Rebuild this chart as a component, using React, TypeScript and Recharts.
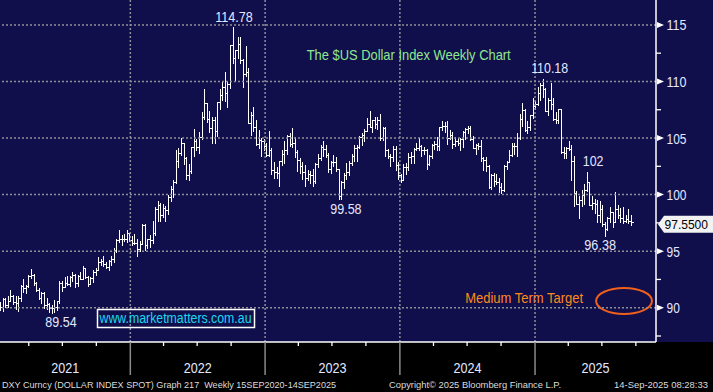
import React from 'react';
import {
  ComposedChart,
  Bar,
  XAxis,
  YAxis,
  ReferenceLine,
  ReferenceDot,
  ReferenceArea,
} from 'recharts';

const FONT = '"Liberation Sans", Arial, sans-serif';
const NAVY = '#100e4b';
const GRID = '#8e8e96';
const TEXT = '#e4e8ff';

// weekly DXY bars [open, high, low, close], weeks ending on Fridays from 8 Jan 2021
const bars2021 = [
  [90.0, 90.5, 89.8, 90.1], [90.1, 90.9, 89.7, 90.8], [90.8, 90.9, 90.1, 90.2], [90.2, 91.0, 90.1, 90.6],
  [90.6, 91.6, 90.6, 91.0], [91.0, 91.1, 90.3, 90.5], [90.5, 91.0, 89.9, 90.4], [90.4, 91.0, 89.7, 90.9],
  [90.9, 92.0, 90.6, 91.9], [91.9, 92.5, 91.4, 91.7], [91.7, 92.0, 91.3, 91.9], [91.9, 92.9, 91.8, 92.8],
  [92.8, 93.4, 92.6, 92.9], [92.9, 93.0, 92.0, 92.2], [92.2, 92.3, 91.5, 91.6], [91.6, 91.7, 90.8, 90.9], [90.9, 91.4, 90.4, 91.3],
  [91.3, 91.4, 90.0, 90.2], [90.2, 90.9, 89.9, 90.3], [90.3, 90.4, 89.6, 90.0], [90.0, 90.2, 89.54, 90.0],
  [90.0, 90.7, 89.6, 90.1], [90.1, 90.6, 89.8, 90.6], [90.6, 92.4, 90.4, 92.2], [92.2, 92.4, 91.5, 91.8],
  [91.8, 92.7, 91.8, 92.2], [92.2, 92.8, 92.0, 92.1], [92.1, 92.8, 91.9, 92.7], [92.7, 93.2, 92.4, 92.9], [92.9, 93.0, 91.8, 92.2],
  [92.2, 92.9, 91.9, 92.8], [92.8, 93.2, 92.5, 92.5], [92.5, 93.7, 92.5, 93.5], [93.5, 93.5, 92.6, 92.7],
  [92.7, 92.8, 91.9, 92.1], [92.1, 92.7, 92.1, 92.6], [92.6, 93.3, 92.3, 93.2], [93.2, 93.5, 92.9, 93.3],
  [93.3, 94.5, 93.3, 94.0], [94.0, 94.3, 93.8, 94.1], [94.1, 94.6, 93.7, 93.9], [93.9, 94.0, 93.5, 93.6], [93.6, 94.2, 93.3, 94.1],
  [94.1, 94.6, 93.8, 94.3], [94.3, 95.3, 94.0, 95.1], [95.1, 96.1, 94.9, 96.0], [96.0, 96.9, 95.8, 96.1],
  [96.1, 96.4, 95.5, 96.1], [96.1, 96.5, 95.9, 96.1], [96.1, 96.9, 95.8, 96.6], [96.6, 96.6, 95.9, 96.0], [96.0, 96.3, 95.5, 95.7],
];

const bars2022 = [
  [95.7, 96.5, 95.6, 95.7], [95.7, 96.1, 94.6, 95.2], [95.2, 95.9, 95.0, 95.6], [95.6, 97.4, 95.6, 97.3],
  [97.3, 97.4, 95.1, 95.5], [95.5, 96.1, 95.3, 96.1], [96.1, 96.4, 95.4, 96.0], [96.0, 97.7, 95.7, 96.6],
  [96.6, 98.9, 96.4, 98.7], [98.7, 99.4, 97.7, 99.1], [99.1, 99.3, 97.7, 98.2], [98.2, 99.2, 98.0, 98.8],
  [98.8, 99.0, 97.7, 98.6], [98.6, 100.0, 98.3, 99.8], [99.8, 100.8, 99.4, 100.5], [100.5, 101.3, 99.8, 101.1], [101.1, 103.9, 101.0, 103.0],
  [103.0, 104.1, 102.4, 103.7], [103.7, 105.0, 103.5, 104.6], [104.6, 104.6, 102.7, 103.2], [103.2, 103.3, 101.4, 101.7],
  [101.7, 102.7, 101.3, 102.1], [102.1, 104.2, 101.9, 104.2], [104.2, 105.8, 103.4, 104.7], [104.7, 104.9, 103.9, 104.2],
  [104.2, 105.5, 103.7, 105.1], [105.1, 107.3, 104.9, 106.9], [106.9, 109.3, 106.7, 108.1], [108.1, 108.1, 106.4, 106.7], [106.7, 107.4, 105.5, 105.9],
  [105.9, 106.9, 104.6, 106.6], [106.6, 106.9, 104.6, 105.6], [105.6, 108.2, 105.2, 108.2], [108.2, 109.3, 107.6, 108.8],
  [108.8, 110.0, 108.4, 109.5], [109.5, 110.8, 108.3, 109.0], [109.0, 110.0, 107.7, 109.8], [109.8, 113.2, 109.4, 113.2], [113.2, 114.78, 111.6, 112.1],
  [112.1, 112.8, 110.1, 112.8], [112.8, 113.9, 112.1, 113.3], [113.3, 113.9, 111.6, 111.9], [111.9, 112.0, 109.5, 110.7],
  [110.7, 113.1, 110.5, 110.8], [110.8, 111.2, 106.3, 106.3], [106.3, 107.3, 105.3, 107.0], [107.0, 107.7, 105.6, 106.0],
  [106.0, 106.6, 104.4, 104.5], [104.5, 105.7, 104.1, 104.8], [104.8, 105.0, 103.4, 104.7], [104.7, 104.9, 103.9, 104.3], [104.3, 104.6, 103.4, 103.5],
];

const bars2023 = [
  [103.5, 105.6, 103.4, 103.9], [103.9, 104.1, 101.8, 102.2], [102.2, 102.9, 101.5, 102.0], [102.0, 102.4, 101.5, 101.9],
  [101.9, 103.0, 100.8, 103.0], [103.0, 103.9, 102.6, 103.6], [103.6, 104.7, 102.8, 103.9], [103.9, 105.3, 103.6, 105.2],
  [105.2, 105.4, 104.3, 104.5], [104.5, 105.9, 104.2, 104.6], [104.6, 105.1, 103.3, 103.8], [103.8, 103.9, 102.1, 103.1], [103.1, 103.2, 101.9, 102.5],
  [102.5, 102.9, 101.4, 102.0], [102.0, 102.6, 100.8, 101.5], [101.5, 102.2, 101.3, 101.8], [101.8, 102.1, 101.0, 101.7],
  [101.7, 102.3, 100.8, 101.2], [101.2, 102.8, 101.0, 102.7], [102.7, 103.6, 102.4, 103.2], [103.2, 104.4, 103.1, 104.2],
  [104.2, 104.7, 103.4, 104.0], [104.0, 104.4, 103.3, 103.5], [103.5, 103.7, 102.0, 102.3], [102.3, 103.0, 101.9, 102.9], [102.9, 103.5, 102.5, 102.9],
  [102.9, 103.3, 102.1, 102.3], [102.3, 102.3, 99.58, 99.9], [99.9, 101.2, 99.6, 101.1], [101.1, 101.9, 100.6, 101.7],
  [101.7, 102.8, 101.4, 102.0], [102.0, 103.0, 101.7, 102.8], [102.8, 103.6, 102.6, 103.4], [103.4, 104.4, 103.0, 104.1],
  [104.1, 104.4, 103.0, 104.2], [104.2, 105.2, 104.1, 105.1], [105.1, 105.4, 104.4, 105.3], [105.3, 105.8, 104.7, 105.6], [105.6, 106.8, 105.6, 106.2],
  [106.2, 107.35, 106.0, 106.0], [106.0, 106.6, 105.5, 106.6], [106.6, 106.9, 105.9, 106.2], [106.2, 106.9, 105.8, 106.6],
  [106.6, 107.1, 104.8, 105.0], [105.0, 106.0, 104.8, 105.9], [105.9, 106.0, 103.4, 103.9], [103.9, 104.0, 103.2, 103.4],
  [103.4, 103.6, 102.5, 103.3], [103.3, 104.3, 103.0, 104.0], [104.0, 104.3, 102.2, 102.6], [102.6, 102.9, 101.4, 101.7], [101.7, 101.8, 101.1, 101.3],
];

const bars2024 = [
  [101.3, 102.7, 101.3, 102.4], [102.4, 102.8, 101.8, 102.4], [102.4, 103.7, 102.2, 103.3], [103.3, 103.8, 102.8, 103.4],
  [103.4, 104.1, 102.8, 104.0], [104.0, 104.6, 103.9, 104.1], [104.1, 105.0, 103.9, 104.3], [104.3, 104.4, 103.4, 103.9],
  [103.9, 104.2, 103.6, 103.9], [103.9, 104.0, 102.3, 102.7], [102.7, 103.5, 102.6, 103.4], [103.4, 104.5, 103.2, 104.4], [104.4, 104.7, 104.0, 104.5],
  [104.5, 105.1, 103.9, 104.3], [104.3, 106.0, 103.9, 106.0], [106.0, 106.5, 105.7, 106.1], [106.1, 106.4, 105.5, 106.1],
  [106.1, 106.5, 104.5, 105.0], [105.0, 105.7, 104.9, 105.3], [105.3, 105.5, 104.1, 104.5], [104.5, 105.1, 104.3, 104.7], [104.7, 105.0, 104.4, 104.6],
  [104.6, 105.0, 103.9, 104.9], [104.9, 105.6, 104.2, 105.5], [105.5, 105.9, 104.9, 105.8], [105.8, 106.1, 105.4, 105.9],
  [105.9, 106.1, 104.8, 104.9], [104.9, 105.2, 104.1, 104.1], [104.1, 104.5, 103.6, 104.4], [104.4, 104.6, 104.0, 104.3],
  [104.3, 104.8, 103.0, 103.2], [103.2, 103.3, 102.2, 103.1], [103.1, 103.3, 102.1, 102.5], [102.5, 102.6, 100.6, 100.7], [100.7, 101.8, 100.5, 101.7],
  [101.7, 101.9, 100.8, 101.2], [101.2, 101.8, 100.9, 101.1], [101.1, 101.5, 100.2, 100.7], [100.7, 101.0, 100.16, 100.4],
  [100.4, 102.6, 100.3, 102.5], [102.5, 103.0, 102.3, 102.9], [102.9, 103.9, 102.9, 103.5], [103.5, 104.6, 103.4, 104.3],
  [104.3, 104.6, 103.6, 104.3], [104.3, 105.4, 103.4, 105.0], [105.0, 107.1, 104.9, 106.7], [106.7, 108.1, 106.1, 107.5], [107.5, 107.6, 105.6, 105.7],
  [105.7, 106.5, 105.4, 106.0], [106.0, 107.0, 105.7, 107.0], [107.0, 108.5, 106.8, 107.8], [107.8, 108.3, 107.6, 108.0],
];

const bars2025 = [
  [108.0, 109.5, 107.9, 109.0], [109.0, 109.9, 108.4, 109.7], [109.7, 110.18, 108.6, 109.3], [109.3, 109.4, 107.4, 107.4], [107.4, 108.5, 107.0, 108.4],
  [108.4, 109.9, 107.6, 108.0], [108.0, 108.5, 106.6, 106.7], [106.7, 107.3, 106.3, 106.6], [106.6, 107.6, 106.3, 107.6],
  [107.6, 107.6, 103.7, 103.8], [103.8, 104.2, 103.2, 103.7], [103.7, 104.2, 103.2, 104.1], [104.1, 104.7, 103.9, 104.0],
  [104.0, 104.4, 101.3, 103.0], [103.0, 103.4, 99.0, 100.1], [100.1, 100.3, 99.2, 99.2], [99.2, 99.9, 97.9, 99.5],
  [99.5, 100.4, 99.0, 100.0], [100.0, 100.9, 99.2, 100.4], [100.4, 101.98, 100.3, 101.1], [101.1, 101.1, 99.1, 99.1], [99.1, 99.9, 98.7, 99.3],
  [99.3, 99.6, 98.4, 99.2], [99.2, 99.5, 97.6, 98.2], [98.2, 99.4, 97.6, 98.7], [98.7, 99.1, 97.2, 97.4],
  [97.4, 97.6, 96.38, 97.0], [97.0, 98.0, 96.9, 97.9], [97.9, 98.9, 97.6, 98.5], [98.5, 98.5, 97.1, 97.6],
  [97.6, 100.26, 97.6, 98.7], [98.7, 99.1, 97.9, 98.2], [98.2, 98.8, 97.6, 97.9], [97.9, 98.9, 97.5, 97.7], [97.7, 98.2, 97.6, 97.8],
  [97.8, 98.7, 97.5, 97.7], [97.7, 98.2, 97.3, 97.55],
];

const firstWeek = '2021-01-08';
const years = [2021, 2022, 2023, 2024, 2025];
const priceTicks = [87.5, 90, 92.5, 95, 97.5, 100, 102.5, 105, 107.5, 110, 112.5, 115];
const lastPrice = 97.55;

// labelled turning points: week index and price
const notes = [
  { i: 20, v: 89.54, text: '89.54' },
  { i: 90, v: 114.78, text: '114.78' },
  { i: 131, v: 99.58, text: '99.58' },
  { i: 210, v: 110.18, text: '110.18' },
  { i: 227, v: 101.98, text: '102' },
  { i: 234, v: 96.38, text: '96.38' },
];

const allBars = [...bars2021, ...bars2022, ...bars2023, ...bars2024, ...bars2025];
const data = allBars.map(([o, h, l, c], i) => ({ i, o, h, l, c, range: [l, h] }));

const X_MIN = -0.12;
const X_MAX = 253.66;
const Y_MIN = 86.97;
const Y_MAX = 117.2;

const WEEK = 7 * 86400000;
const t0 = Date.parse(firstWeek);
// bloomberg puts the calendar lines a bit before the first bar of the period
const weekOf = (y: number, m: number, d: number) => (Date.UTC(y, m, d) - t0) / WEEK - 0.85;
const inside = (v: number) => v > X_MIN && v < X_MAX;

const yearLines = years.map((y) => weekOf(y, 0, 1)).filter(inside);
const quarterTicks = years.flatMap((y) => [3, 6, 9].map((m) => weekOf(y, m, 1))).filter(inside);
const yearMids = years.map((y) => {
  const a = Math.max(X_MIN, weekOf(y, 0, 1));
  const b = Math.min(X_MAX, weekOf(y + 1, 0, 1));
  return (a + b) / 2;
});

const tickKind = new Map<number, { kind: string; label?: string }>();
yearLines.forEach((v) => tickKind.set(v, { kind: 'year' }));
quarterTicks.forEach((v) => tickKind.set(v, { kind: 'quarter' }));
yearMids.forEach((v, k) => tickKind.set(v, { kind: 'label', label: String(years[k]) }));
const xTicks = [...yearLines, ...quarterTicks, ...yearMids];

const noteOffset: Record<string, { dx: number; dy: number; w: number }> = {
  '89.54': { dx: 9, dy: 14, w: 31.3 },
  '114.78': { dx: 1, dy: -5, w: 37.5 },
  '99.58': { dx: 7, dy: 15, w: 31.3 },
  '110.18': { dx: 6.5, dy: -6, w: 37 },
  '102': { dx: 6, dy: -6, w: 20.7 },
  '96.38': { dx: -5, dy: 14.5, w: 31.7 },
};

function OhlcBar(props: any) {
  const { x, y, width, height, payload } = props;
  if (!payload || !isFinite(x) || !isFinite(y)) return null;
  const top = Math.min(y, y + height);
  const span = Math.abs(height);
  const { o, h, l, c } = payload;
  const toY = (v: number) => (h === l ? top : top + ((h - v) / (h - l)) * span);
  const cx = Math.round(x + (isFinite(width) ? width : 0) / 2) + 0.5;
  const yo = Math.round(toY(o)) + 0.5;
  const yc = Math.round(toY(c)) + 0.5;
  return (
    <g stroke="#ffffff" strokeWidth={1} shapeRendering="crispEdges">
      <line x1={cx} y1={Math.round(top)} x2={cx} y2={Math.round(top + span) + 1} />
      <line x1={cx - 2} y1={yo} x2={cx} y2={yo} />
      <line x1={cx} y1={yc} x2={cx + 2} y2={yc} />
    </g>
  );
}

function PriceTick({ x, y, payload }: any) {
  const v = payload.value;
  if (v % 5 !== 0) {
    return <line x1={x} y1={y} x2={x + 5} y2={y} stroke="#fff" strokeWidth={1.3} />;
  }
  const label = String(v);
  return (
    <g>
      <polygon points={`${x + 1},${y - 3} ${x + 8},${y} ${x + 1},${y + 3}`} fill="#fff" />
      <text
        x={x + 10.5}
        y={y + 5.5}
        fill={TEXT}
        fontSize={14}
        fontFamily={FONT}
        textLength={label.length === 3 ? 20 : 13.3}
        lengthAdjust="spacingAndGlyphs"
      >
        {label}
      </text>
    </g>
  );
}

function TimeTick({ x, y, payload }: any) {
  const info = tickKind.get(payload.value);
  if (!info) return null;
  if (info.kind === 'year') {
    return <line x1={x} y1={y} x2={x} y2={y + 33} stroke="#8a8a8a" strokeWidth={1.5} />;
  }
  if (info.kind === 'quarter') {
    return <line x1={x} y1={y} x2={x} y2={y + 4} stroke="#fff" strokeWidth={1.3} />;
  }
  return (
    <text
      x={x}
      y={y + 30.7}
      textAnchor="middle"
      fill={TEXT}
      fontSize={14}
      fontFamily={FONT}
      textLength={28}
      lengthAdjust="spacingAndGlyphs"
    >
      {info.label}
    </text>
  );
}

function NoteLabel({ viewBox, text }: any) {
  const off = noteOffset[text];
  const cx = viewBox.x + viewBox.width / 2;
  const cy = viewBox.y + viewBox.height / 2;
  return (
    <text
      x={cx + off.dx}
      y={cy + off.dy}
      textAnchor="middle"
      fill={TEXT}
      fontSize={14}
      fontFamily={FONT}
      textLength={off.w}
      lengthAdjust="spacingAndGlyphs"
    >
      {text}
    </text>
  );
}

function PriceTag({ viewBox }: any) {
  const x = viewBox.x + viewBox.width + 2;
  const y = viewBox.y + 2;
  return (
    <g>
      <polygon
        points={`${x},${y} ${x + 6},${y - 8.5} ${713},${y - 8.5} ${713},${y + 8.5} ${x + 6},${y + 8.5}`}
        fill="#f2f2f2"
      />
      <text
        x={x + 6.5}
        y={y + 5}
        fill="#000"
        fontSize={13.5}
        fontFamily={FONT}
        textLength={43.5}
        lengthAdjust="spacingAndGlyphs"
      >
        {lastPrice.toFixed(4)}
      </text>
    </g>
  );
}

function TargetEllipse({ x, y, width, height }: any) {
  const cx = x + width / 2;
  const cy = y + height / 2;
  return (
    <g>
      <ellipse cx={cx} cy={cy} rx={width / 2} ry={height / 2} fill="none" stroke="#f0601c" strokeWidth={2} />
      <text
        x={x - 13}
        y={cy + 2.5}
        textAnchor="end"
        fill="#ff8a1c"
        fontSize={14}
        fontFamily={FONT}
        textLength={118}
        lengthAdjust="spacingAndGlyphs"
      >
        Medium Term Target
      </text>
    </g>
  );
}

export default function App() {
  return (
    <div style={{ position: 'fixed', left: 0, top: 0, width: 713, height: 392, background: '#000' }}>
      <div style={{ position: 'absolute', left: 0, top: 0, width: 713, height: 342, background: NAVY }} />
      <div style={{ position: 'absolute', left: 0, top: 0 }}>
        <ComposedChart width={713} height={392} data={data} margin={{ top: 0, right: 0, bottom: 0, left: 0 }}>
          <XAxis
            dataKey="i"
            type="number"
            domain={[X_MIN, X_MAX]}
            allowDataOverflow
            ticks={xTicks}
            interval={0}
            height={50}
            tickSize={0}
            tickMargin={0}
            tickLine={false}
            axisLine={{ stroke: '#fff', strokeWidth: 1.5 }}
            tick={<TimeTick />}
          />
          <YAxis
            orientation="right"
            width={57}
            domain={[Y_MIN, Y_MAX]}
            allowDataOverflow
            ticks={priceTicks}
            interval={0}
            tickSize={0}
            tickMargin={0}
            tickLine={false}
            axisLine={{ stroke: '#fff', strokeWidth: 1.5 }}
            tick={<PriceTick />}
          />
          {priceTicks
            .filter((v) => v % 5 === 0)
            .map((v) => (
              <ReferenceLine key={`h${v}`} y={v} stroke={GRID} strokeWidth={1.5} strokeDasharray="2 2" />
            ))}
          {yearLines.map((v) => (
            <ReferenceLine key={`v${v}`} x={v} stroke={GRID} strokeWidth={1.5} strokeDasharray="2 2" />
          ))}
          <ReferenceArea
            x1={230.5}
            x2={252.1}
            y1={89.45}
            y2={91.75}
            shape={(p: any) => <TargetEllipse {...p} />}
          />
          <Bar dataKey="range" barSize={2} isAnimationActive={false} shape={(p: any) => <OhlcBar {...p} />} />
          {notes.map((n) => (
            <ReferenceDot
              key={n.text}
              x={n.i}
              y={n.v}
              r={1}
              fill="none"
              stroke="none"
              label={(p: any) => <NoteLabel {...p} text={n.text} />}
            />
          ))}
          <ReferenceLine y={lastPrice} stroke="none" label={(p: any) => <PriceTag {...p} />} />
        </ComposedChart>
      </div>
      <svg width={713} height={392} style={{ position: 'absolute', left: 0, top: 0, pointerEvents: 'none' }}>
        <text x={306.7} y={60} fill="#8fe88f" fontSize={14.5} fontFamily={FONT} textLength={204} lengthAdjust="spacingAndGlyphs">
          The $US Dollar Index Weekly Chart
        </text>
        <rect x={97.5} y={309.5} width={157} height={18} fill="none" stroke="#fff" strokeWidth={1.5} />
        <text x={99.5} y={322.5} fill="#19d9f2" fontSize={14} fontFamily={FONT} textLength={152} lengthAdjust="spacingAndGlyphs">
          www.marketmatters.com.au
        </text>
        <text x={2} y={388} fill="#dcdcdc" fontSize={9.5} fontFamily={FONT} textLength={334} lengthAdjust="spacingAndGlyphs" style={{ whiteSpace: 'pre' }}>
          DXY Curncy (DOLLAR INDEX SPOT) Graph 217  Weekly 15SEP2020-14SEP2025
        </text>
        <text x={389} y={388} fill="#dcdcdc" fontSize={9.5} fontFamily={FONT} textLength={172} lengthAdjust="spacingAndGlyphs">
          Copyright© 2025 Bloomberg Finance L.P.
        </text>
        <text x={614} y={388} fill="#dcdcdc" fontSize={9.2} fontFamily={FONT} textLength={94} lengthAdjust="spacingAndGlyphs">
          14-Sep-2025 08:28:33
        </text>
      </svg>
    </div>
  );
}
